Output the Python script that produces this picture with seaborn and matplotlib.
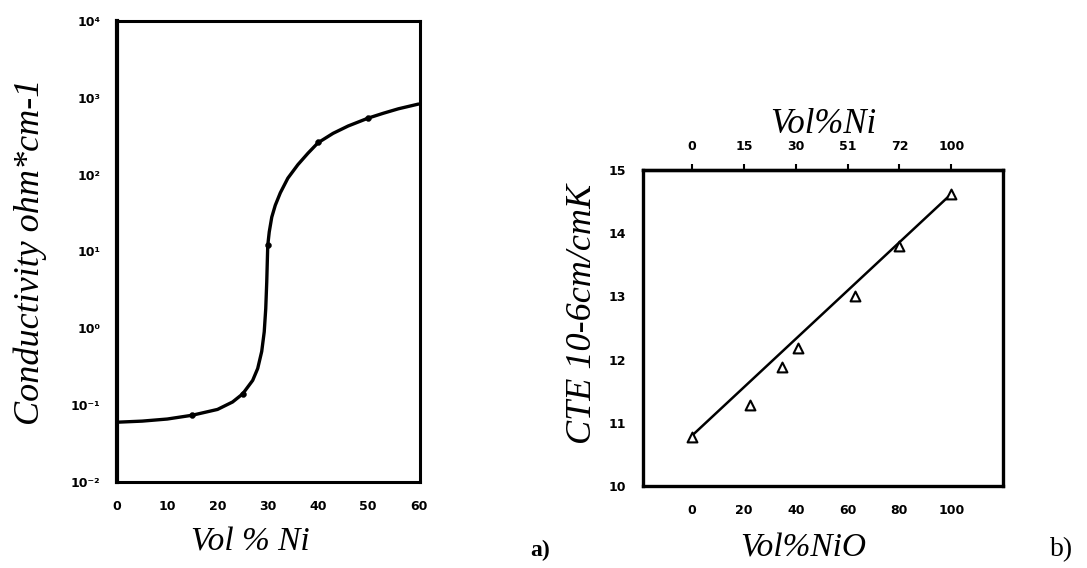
import numpy as np
import pandas as pd
import matplotlib
matplotlib.use("Agg")
import matplotlib.pyplot as plt
import seaborn as sns

### Dados lidos da figura
# a) Condutividade x Vol% Ni (curva e pontos medidos)
ni_curva = [0, 5, 10, 15, 20, 23, 25, 27, 28, 28.8, 29.3, 29.6, 29.8, 30.0, 30.3, 30.8,
            31.5, 32.5, 34, 36, 38, 40, 43, 46, 50, 53, 56, 60]
cond_curva = [0.060, 0.062, 0.066, 0.074, 0.088, 0.11, 0.14, 0.21, 0.30, 0.50, 0.9, 1.8, 4.0,
              12, 18, 28, 40, 58, 90, 135, 190, 260, 345, 430, 545, 630, 720, 830]
ni_pontos = [15, 25, 30, 40, 50]
cond_pontos = [0.074, 0.14, 12, 270, 545]
cond_ticks = [1e-2, 1e-1, 1e0, 1e1, 1e2, 1e3, 1e4]
cond_ticklabels = ["10⁻²", "10⁻¹", "10⁰", "10¹", "10²", "10³", "10⁴"]
ni_ticks = [0, 10, 20, 30, 40, 50, 60]

# b) CTE x Vol% NiO
nio = [0, 22.4, 34.5, 41, 63, 80, 100]
cte = [10.77, 11.28, 11.88, 12.18, 13.0, 13.8, 14.62]
ajuste_x = [0, 100]
ajuste_y = [10.8, 14.62]
nio_ticks = [0, 20, 40, 60, 80, 100]
ni_topo_labels = ["0", "15", "30", "51", "72", "100"]
cte_ticks = [10, 11, 12, 13, 14, 15]

### Estilo
sns.set_style("white")
plt.rcParams["font.family"] = ["DejaVu Sans"]
plt.rcParams["text.color"] = "black"
plt.rcParams["axes.labelcolor"] = "black"
plt.rcParams["xtick.color"] = "black"
plt.rcParams["ytick.color"] = "black"
serif = {"family": "Liberation Serif", "style": "italic"}
tick_font = {"family": "DejaVu Sans", "weight": "bold", "size": 9}

fig = plt.figure(figsize = (10.87, 5.68), dpi = 100)
fig.patch.set_facecolor("white")

### a) Condutividade
ax1 = fig.add_axes([117/1087, 1 - 482/568, 303/1087, 461/568])
df_curva = pd.DataFrame({"Ni": ni_curva, "Cond": cond_curva})
df_pontos = pd.DataFrame({"Ni": ni_pontos, "Cond": cond_pontos})
sns.lineplot(data = df_curva, x = "Ni", y = "Cond", ax = ax1, color = "black",
             linewidth = 2.4, estimator = None, sort = False)
sns.scatterplot(data = df_pontos, x = "Ni", y = "Cond", ax = ax1, color = "black",
                s = 18, edgecolor = "black", zorder = 3)
ax1.set_yscale("log")
ax1.set_xlim(0, 60.3)
ax1.set_ylim(1e-2, 1e4)
ax1.set_yticks(cond_ticks)
ax1.set_yticklabels(cond_ticklabels, fontdict = tick_font)
ax1.minorticks_off()
ax1.set_xticks(ni_ticks)
ax1.set_xticklabels([str(t) for t in ni_ticks], fontdict = tick_font)
ax1.tick_params(axis = "both", length = 0)
ax1.tick_params(axis = "x", pad = 13)
ax1.tick_params(axis = "y", pad = 12)
for lado in ax1.spines.values():
    lado.set_color("black")
    lado.set_linewidth(2.2)
ax1.spines["left"].set_linewidth(3)
ax1.set_xlabel("Vol % Ni", fontdict = serif, fontsize = 24, va = "center")
ax1.xaxis.set_label_coords(0.439, -0.130)
ax1.set_ylabel("Conductivity ohm*cm-1", fontdict = serif, fontsize = 26, va = "center")
ax1.yaxis.set_label_coords(-0.287, 0.5)

### b) CTE
ax2 = fig.add_axes([643/1087, 1 - 486/568, 360/1087, 316/568])
df_cte = pd.DataFrame({"NiO": nio, "CTE": cte})
df_ajuste = pd.DataFrame({"NiO": ajuste_x, "CTE": ajuste_y})
sns.lineplot(data = df_ajuste, x = "NiO", y = "CTE", ax = ax2, color = "black",
             linewidth = 1.8, estimator = None)
sns.scatterplot(data = df_cte, x = "NiO", y = "CTE", ax = ax2, marker = "^", s = 50,
                facecolor = "white", edgecolor = "black", linewidth = 1.5, zorder = 3)
ax2.set_xlim(-19, 120)
ax2.set_ylim(10, 15)
ax2.set_xticks(nio_ticks)
ax2.set_xticklabels([str(t) for t in nio_ticks], fontdict = tick_font)
ax2.set_yticks(cte_ticks)
ax2.set_yticklabels([str(t) for t in cte_ticks], fontdict = tick_font)
ax2.tick_params(axis = "both", direction = "out", length = 4, width = 1.5, color = "black")
ax2.tick_params(axis = "x", pad = 9)
ax2.tick_params(axis = "y", pad = 8)
for lado in ax2.spines.values():
    lado.set_color("black")
    lado.set_linewidth(2.4)
ax2.set_xlabel("Vol%NiO", fontdict = serif, fontsize = 24, va = "center")
ax2.xaxis.set_label_coords((803 - 643)/360, -(548 - 486)/316)
ax2.set_ylabel("CTE 10-6cm/cmK", fontdict = serif, fontsize = 26, va = "center")
ax2.yaxis.set_label_coords(-0.167, 0.544)

topo = ax2.secondary_xaxis("top")
topo.set_xticks(nio_ticks)
topo.set_xticklabels(ni_topo_labels, fontdict = tick_font)
topo.tick_params(direction = "out", length = 4, width = 1.5, pad = 8)
topo.spines["top"].set_linewidth(2.4)
topo.set_xlabel("Vol%Ni", fontdict = serif, fontsize = 25, labelpad = 5)

### Rótulos dos painéis
fig.text(540/1087, 1 - 550/568, "a)", fontfamily = "Liberation Serif", fontweight = "bold",
         fontsize = 17, ha = "center", va = "center")
fig.text(1062/1087, 1 - 550/568, "b)", fontfamily = "Liberation Serif",
         fontsize = 20, ha = "center", va = "center")

plt.savefig("out.png", dpi = 100, facecolor = "white")
